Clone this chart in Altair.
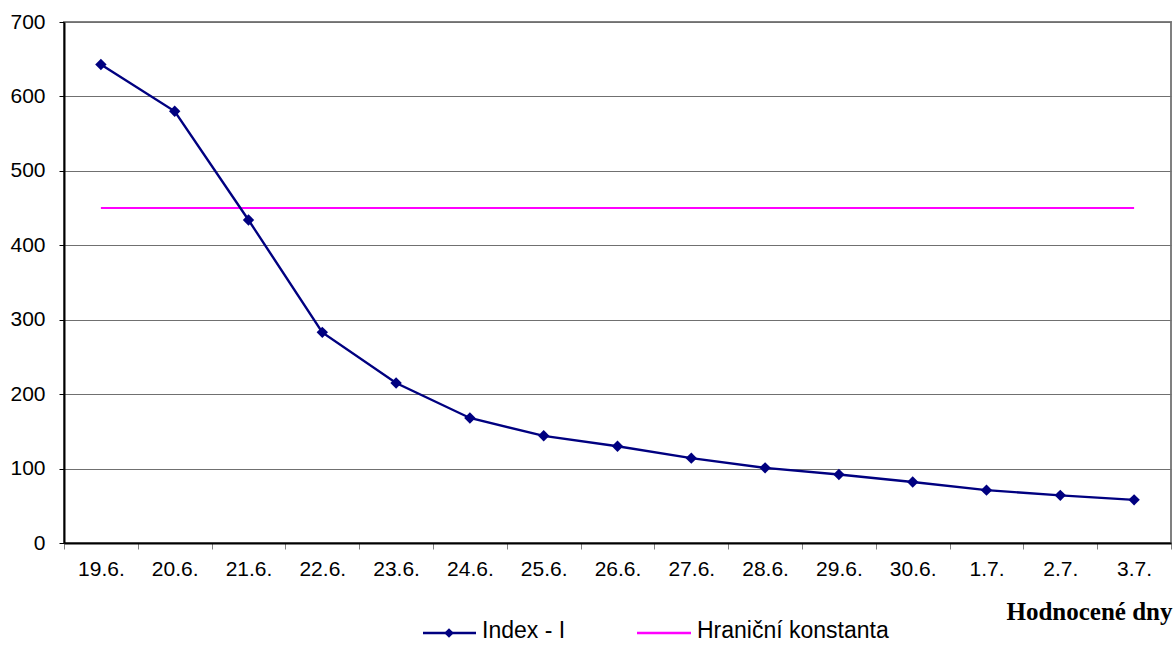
import altair as alt
import pandas as pd

# Evaluated days and the index value for each of them
days = ["19.6.", "20.6.", "21.6.", "22.6.", "23.6.", "24.6.", "25.6.", "26.6.",
        "27.6.", "28.6.", "29.6.", "30.6.", "1.7.", "2.7.", "3.7."]
index_i = [643, 580, 434, 283, 215, 168, 144, 130, 114, 101, 92, 82, 71, 64, 58]
limit_value = 450  # Hraniční konstanta

NAVY = "#000080"
MAGENTA = "#FF00FF"
W, H = 1107, 521

df = pd.DataFrame({"den": days, "index": index_i, "limit": [limit_value] * len(days)})
one = pd.DataFrame({"k": [0]})  # single row for legend pieces

x_enc = alt.X(
    "den:N", sort=days,
    scale=alt.Scale(paddingInner=0, paddingOuter=0),
    axis=alt.Axis(title="Hodnocené dny", tickBand="extent"),
)
y_scale = alt.Scale(domain=[0, 700], nice=False, zero=True)
y_axis = alt.Axis(title=None, values=list(range(0, 701, 100)))

base = alt.Chart(df)

limit_line = base.mark_line(color=MAGENTA, strokeWidth=2).encode(
    x=x_enc, y=alt.Y("limit:Q", scale=y_scale, axis=y_axis)
)
index_line = base.mark_line(color=NAVY, strokeWidth=2.4).encode(
    x=x_enc, y=alt.Y("index:Q", scale=y_scale, axis=y_axis)
)
index_pts = base.mark_point(shape="diamond", filled=True, color=NAVY, size=130, opacity=1).encode(
    x=x_enc, y=alt.Y("index:Q", scale=y_scale, axis=y_axis)
)

# Legend drawn below the plot
LY = 611
leg = alt.Chart(one)
leg_blue = leg.mark_rule(color=NAVY, strokeWidth=2.4).encode(
    x=alt.value(359), x2=alt.value(412), y=alt.value(LY)
)
leg_dia = leg.mark_point(shape="diamond", filled=True, color=NAVY, size=90, opacity=1).encode(
    x=alt.value(385), y=alt.value(LY)
)
leg_mag = leg.mark_rule(color=MAGENTA, strokeWidth=2.4).encode(
    x=alt.value(573), x2=alt.value(627), y=alt.value(LY)
)
leg_txt1 = leg.mark_text(
    text="Index - I", align="left", baseline="middle", font="Liberation Sans",
    fontSize=23, color="black"
).encode(x=alt.value(418), y=alt.value(LY - 2))
leg_txt2 = leg.mark_text(
    text="Hraniční konstanta", align="left", baseline="middle", font="Liberation Sans",
    fontSize=23, color="black"
).encode(x=alt.value(633), y=alt.value(LY - 2))

chart = alt.layer(
    limit_line, index_line, index_pts,
    leg_blue, leg_dia, leg_mag, leg_txt1, leg_txt2,
).properties(
    width=W, height=H,
    autosize=alt.AutoSizeParams(type="none"),
    padding={"left": 64, "top": 22, "right": 3, "bottom": 102},
    background="white",
).configure_view(
    stroke="#808080", strokeWidth=2
).configure_axis(
    labelFont="Liberation Sans", labelFontSize=21, labelColor="black",
    domainColor="black", domainWidth=2,
).configure_axisX(
    titleFont="Liberation Serif", titleFontSize=25, titleFontWeight="bold",
    titleColor="black", titleAnchor="end", titleAlign="right",
    titleBaseline="middle", titleX=W + 1, titleY=68,
    labelAngle=0, labelAlign="center", labelPadding=9,
    tickSize=6, tickColor="#808080", grid=False,
).configure_axisY(
    labelPadding=14, tickSize=5, tickColor="black",
    grid=True, gridColor="#707070", gridWidth=1,
)

chart.save("out.html", embed_options={"renderer": "svg", "actions": False})
